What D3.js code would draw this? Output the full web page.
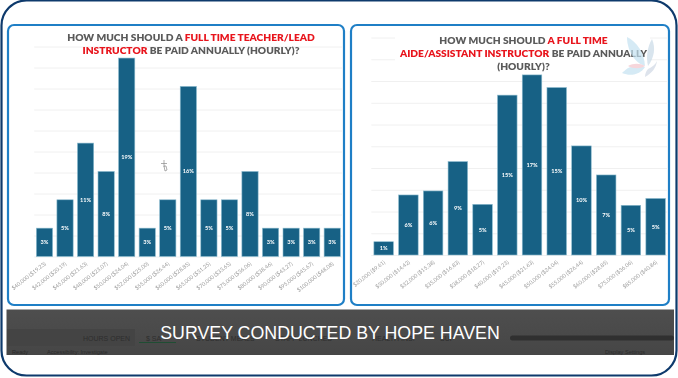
<!DOCTYPE html>
<html>
<head>
<meta charset="utf-8">
<script src="https://cdn.jsdelivr.net/npm/d3@7/dist/d3.min.js"></script>
<style>
html,body{margin:0;padding:0;background:#fff;overflow:hidden}
svg{display:block;filter:blur(0.4px)}
</style>
</head>
<body>
<svg id="chart" width="678" height="378"></svg>
<script>
const leadCategories = ["$40,000 ($19.23)","$42,000 ($20.19)","$45,000 ($21.63)","$48,000 ($23.07)","$50,000 ($24.04)","$52,000 ($25.00)","$55,000 ($26.44)","$60,000 ($28.85)","$65,000 ($31.25)","$70,000 ($33.65)","$75,000 ($36.06)","$80,000 ($38.46)","$90,000 ($43.27)","$95,000 ($45.67)","$100,000 ($48.08)"];
const leadValues = [2.7,5.4,10.8,8.1,18.9,2.7,5.4,16.2,5.4,5.4,8.1,2.7,2.7,2.7,2.7];
const aideCategories = ["$20,000 ($9.61)","$30,000 ($14.42)","$32,000 ($15.38)","$35,000 ($16.83)","$38,000 ($18.27)","$40,000 ($19.23)","$45,000 ($21.63)","$50,000 ($24.04)","$55,000 ($26.44)","$60,000 ($28.85)","$75,000 ($36.06)","$85,000 ($40.86)"];
const aideValues = [1.22,5.52,5.89,8.59,4.66,14.7,16.56,15.4,10.03,7.36,4.57,5.2];
const gridTicks = [0,2,4,6,8,10,12,14,16,18,20];
const leadTitle = [[["HOW MUCH SHOULD A ",0],["FULL TIME TEACHER/LEAD",1]],[["INSTRUCTOR",1],[" BE PAID ANNUALLY (HOURLY)?",0]]];
const aideTitle = [[["HOW MUCH SHOULD ",0],["A FULL TIME",1]],[["AIDE/ASSISTANT INSTRUCTOR",1],[" BE PAID ANNUALLY",0]],[["(HOURLY)?",0]]];
const caption = "SURVEY CONDUCTED BY HOPE HAVEN";
const backdropTabs = ["HOURS OPEN","$ SA","STUDENT MEALS","STAFF LUNCHES","HEALTH INS.","SUP"];
const backdropStatus = ["Ready","Accessibility: Investigate","Display Settings"];

const svg = d3.select("#chart");
const sans = "Lato, 'Open Sans', sans-serif";

svg.append("rect").attr("x",1.5).attr("y",0.5).attr("width",675).attr("height",375).attr("rx",25)
  .attr("fill","#fff").attr("stroke","#0e3a6c").attr("stroke-width",2.2);

function panel(o){
  const g = svg.append("g");
  g.append("rect").attr("x",o.px).attr("y",25).attr("width",o.pw).attr("height",280).attr("rx",6)
    .attr("fill","#fff").attr("stroke","#1f7fc6").attr("stroke-width",2.2);
  const x = d3.scaleBand().domain(o.categories).range(o.xr).paddingInner(0.21).paddingOuter(0.105);
  const y = d3.scaleLinear().domain([0,20]).range(o.yr);
  const grid = g.append("g").attr("transform",`translate(${o.xr[0]},0)`)
    .call(d3.axisLeft(y).tickValues(gridTicks).tickFormat("").tickSize(-(o.xr[1]-o.xr[0])));
  grid.select(".domain").remove();
  grid.selectAll("line").attr("stroke","#f0f0f0");
  if(o.titleBg) g.append("rect").attr("x",o.titleBg[0]).attr("y",o.titleBg[1]).attr("width",o.titleBg[2]).attr("height",o.titleBg[3]).attr("fill","#fff");
  const rows = o.categories.map((c,i)=>({c,v:o.values[i]}));
  g.selectAll("rect.bar").data(rows).join("rect").attr("class","bar")
    .attr("x",d=>x(d.c)).attr("width",x.bandwidth())
    .attr("y",d=>y(d.v)).attr("height",d=>y(0)-y(d.v))
    .attr("fill","#176185").attr("stroke","#8dbccf").attr("stroke-width",0.6);
  g.selectAll("text.val").data(rows).join("text").attr("class","val")
    .attr("x",d=>x(d.c)+x.bandwidth()/2).attr("y",d=>(y(d.v)+y(0))/2+2)
    .attr("text-anchor","middle").attr("fill","#fff")
    .attr("font-family",sans).attr("font-weight",700).attr("font-size",5.6)
    .text(d=>d3.format(".0f")(d.v)+"%");
  const ax = g.append("g").attr("transform",`translate(0,${o.yr[0]})`)
    .call(d3.axisBottom(x).tickSize(0).tickPadding(0));
  ax.select(".domain").remove();
  ax.selectAll("text").attr("font-family",sans).attr("font-size",5.5).attr("fill","#9a9a9a")
    .attr("text-anchor","end").attr("dy",0).attr("y",0)
    .attr("transform",`translate(${o.labelDx},8) rotate(-38)`);
  o.title.forEach((line,i)=>{
    const t = g.append("text").attr("x",o.titleX).attr("y",o.titleY+i*13.2).attr("text-anchor","middle")
      .attr("font-family",sans).attr("font-weight",800).attr("font-size",10.2);
    line.forEach(s=>t.append("tspan").text(s[0]).attr("fill",s[1]?"#e8141c":"#5a5a5a"));
  });
}

panel({px:8,pw:336,categories:leadCategories,values:leadValues,xr:[34.2,342.5],yr:[256.5,46.5],title:leadTitle,titleX:191,titleY:41,labelDx:2});
panel({px:351,pw:318,categories:aideCategories,values:aideValues,xr:[371.3,668],yr:[255,37.5],title:aideTitle,titleX:523.5,titleY:44,titleBg:[395,30,255,42],labelDx:2});

// pointer glyph left over in the screen recording
svg.append("path").attr("d","M164 160v7M161 163.5h6M164 166l1 5 2-1-1-4z").attr("fill","none").attr("stroke","#8a8a8a").attr("stroke-width",0.7);

// watermark butterfly
const logo = svg.append("g").attr("opacity",0.7);
logo.append("path").attr("d","M627 37c10 5 17 15 18 29-10-3-18-15-18-29z").attr("fill","#c4e2f1");
logo.append("path").attr("d","M652 39c4 9 2 19-4 27-2-8-1-19 4-27z").attr("fill","#c9dbe8");
logo.append("path").attr("d","M622 73c6-7 15-9 23-6-4 7-14 10-23 6z").attr("fill","#c4e2f1");
logo.append("path").attr("d","M628 66c5-3 12-3 17 0-5 3-12 3-17 0z").attr("fill","#f3c5cc");
logo.append("path").attr("d","M648 69c4-2 7-4 9-8-1 7-5 12-12 16 0-3 1-6 3-8z").attr("fill","#cfd8e4");

// dark caption band over the spreadsheet
const bandDefs = svg.append("defs").append("linearGradient").attr("id","band").attr("x1",0).attr("x2",0).attr("y1",0).attr("y2",1);
bandDefs.append("stop").attr("offset",0).attr("stop-color","#4e4e4e");
bandDefs.append("stop").attr("offset",1).attr("stop-color","#464646");
svg.append("rect").attr("x",6.5).attr("y",309.5).attr("width",667.5).attr("height",45.5).attr("fill","url(#band)");
svg.append("rect").attr("x",7).attr("y",329).attr("width",128).attr("height",17).attr("fill","#444");
svg.append("rect").attr("x",510).attr("y",335.5).attr("width",164).attr("height",5).attr("rx",2.5).attr("fill","#303030");
svg.append("rect").attr("x",139).attr("y",342).attr("width",37).attr("height",1).attr("fill","#1f4d33");
const tabX = d3.scaleOrdinal().domain(backdropTabs).range([83,146,196,275,372,440]);
svg.selectAll("text.tab").data(backdropTabs).join("text").attr("class","tab")
  .attr("x",d=>tabX(d)).attr("y",341).attr("font-family","Liberation Sans Narrow, Liberation Sans, sans-serif").attr("font-size",7).attr("fill","#2e2e2e").text(d=>d);
const statusX = d3.scaleOrdinal().domain(backdropStatus).range([12,47,605]);
svg.selectAll("text.status").data(backdropStatus).join("text").attr("class","status")
  .attr("x",d=>statusX(d)).attr("y",354).attr("font-family","Liberation Sans, sans-serif").attr("font-size",5.6).attr("fill","#2b2b2b").text(d=>d);
svg.append("text").attr("x",330).attr("y",339).attr("text-anchor","middle")
  .attr("font-family","Liberation Sans, Arial, sans-serif").attr("font-size",17.8).attr("fill","#fff").text(caption);
</script>
</body>
</html>
